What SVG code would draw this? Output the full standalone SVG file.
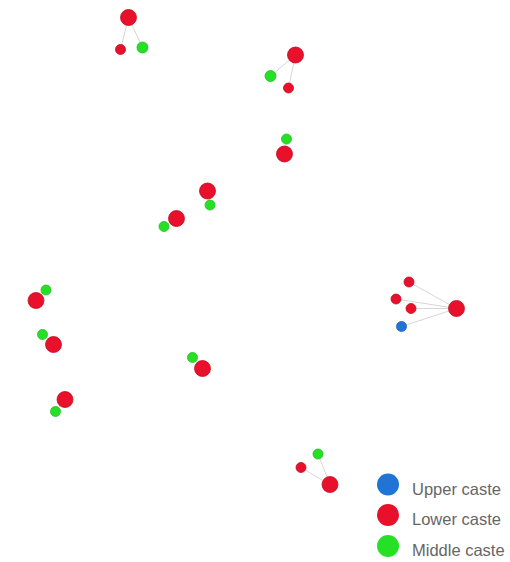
<svg xmlns="http://www.w3.org/2000/svg" width="510" height="562" viewBox="0 0 510 562">
<style>
.link{stroke:#ccc;stroke-width:1;stroke-opacity:0.8}
.lower{fill:#e8102a;stroke:#c40d22;stroke-width:0.8}
.middle{fill:#26e026;stroke:#20bf20;stroke-width:0.8}
.upper{fill:#1f74d6;stroke:#1a62b5;stroke-width:0.8}
.lg{font-family:"Liberation Sans",Arial,sans-serif;font-size:16.5px;fill:#666}
</style>
<rect width="510" height="562" fill="#fff"/>
<g id="connectors">
<line class="link" x1="128.5" y1="17.5" x2="120.5" y2="49.5"/>
<line class="link" x1="128.5" y1="17.5" x2="142.5" y2="47.5"/>
<line class="link" x1="295.5" y1="55" x2="270.5" y2="76"/>
<line class="link" x1="295.5" y1="55" x2="288.5" y2="88"/>
<line class="link" x1="284.5" y1="154" x2="286.5" y2="139"/>
<line class="link" x1="207.5" y1="191" x2="210" y2="205"/>
<line class="link" x1="176.5" y1="218.5" x2="164" y2="226.5"/>
<line class="link" x1="36" y1="300.5" x2="46" y2="290"/>
<line class="link" x1="53.5" y1="344" x2="42.5" y2="334.5"/>
<line class="link" x1="456.5" y1="308.5" x2="409" y2="282"/>
<line class="link" x1="456.5" y1="308.5" x2="396" y2="299"/>
<line class="link" x1="456.5" y1="308.5" x2="411" y2="308.5"/>
<line class="link" x1="456.5" y1="308.5" x2="401.5" y2="326.5"/>
<line class="link" x1="65" y1="399.5" x2="55.5" y2="411.5"/>
<line class="link" x1="202.5" y1="368.5" x2="192.5" y2="357.5"/>
<line class="link" x1="330" y1="484.5" x2="301" y2="467.5"/>
<line class="link" x1="330" y1="484.5" x2="318" y2="454"/>
</g>
<g id="n1"><circle class="lower" cx="128.5" cy="17.5" r="8"/></g>
<g id="n2"><circle class="lower" cx="120.5" cy="49.5" r="5"/></g>
<g id="n3"><circle class="middle" cx="142.5" cy="47.5" r="5.5"/></g>
<g id="n4"><circle class="lower" cx="295.5" cy="55" r="8"/></g>
<g id="n5"><circle class="middle" cx="270.5" cy="76" r="5.5"/></g>
<g id="n6"><circle class="lower" cx="288.5" cy="88" r="5"/></g>
<g id="n7"><circle class="middle" cx="286.5" cy="139" r="5"/></g>
<g id="n8"><circle class="lower" cx="284.5" cy="154" r="8"/></g>
<g id="n9"><circle class="lower" cx="207.5" cy="191" r="8"/></g>
<g id="n10"><circle class="middle" cx="210" cy="205" r="5"/></g>
<g id="n11"><circle class="lower" cx="176.5" cy="218.5" r="8"/></g>
<g id="n12"><circle class="middle" cx="164" cy="226.5" r="5"/></g>
<g id="n13"><circle class="middle" cx="46" cy="290" r="5"/></g>
<g id="n14"><circle class="lower" cx="36" cy="300.5" r="8"/></g>
<g id="n15"><circle class="middle" cx="42.5" cy="334.5" r="5"/></g>
<g id="n16"><circle class="lower" cx="53.5" cy="344.5" r="8"/></g>
<g id="n17"><circle class="lower" cx="409" cy="282" r="5"/></g>
<g id="n18"><circle class="lower" cx="396" cy="299" r="5"/></g>
<g id="n19"><circle class="lower" cx="411" cy="308.5" r="5"/></g>
<g id="n20"><circle class="upper" cx="401.5" cy="326.5" r="5"/></g>
<g id="n21"><circle class="lower" cx="456.5" cy="308.5" r="8"/></g>
<g id="n22"><circle class="middle" cx="192.5" cy="357.5" r="5"/></g>
<g id="n23"><circle class="lower" cx="202.5" cy="368.5" r="8"/></g>
<g id="n24"><circle class="lower" cx="65" cy="399.5" r="8"/></g>
<g id="n25"><circle class="middle" cx="55.5" cy="411.5" r="5"/></g>
<g id="n26"><circle class="middle" cx="318" cy="454" r="5"/></g>
<g id="n27"><circle class="lower" cx="301" cy="467.5" r="5"/></g>
<g id="n28"><circle class="lower" cx="330" cy="484.5" r="8"/></g>
<g id="legend">
<circle cx="388" cy="484.5" r="11" fill="#1f74d6"/>
<text class="lg" x="412" y="494.5">Upper caste</text>
<circle cx="388" cy="515" r="11" fill="#e8102a"/>
<text class="lg" x="412" y="525">Lower caste</text>
<circle cx="388" cy="546" r="11" fill="#26e026"/>
<text class="lg" x="412" y="556">Middle caste</text>
</g>
</svg>
